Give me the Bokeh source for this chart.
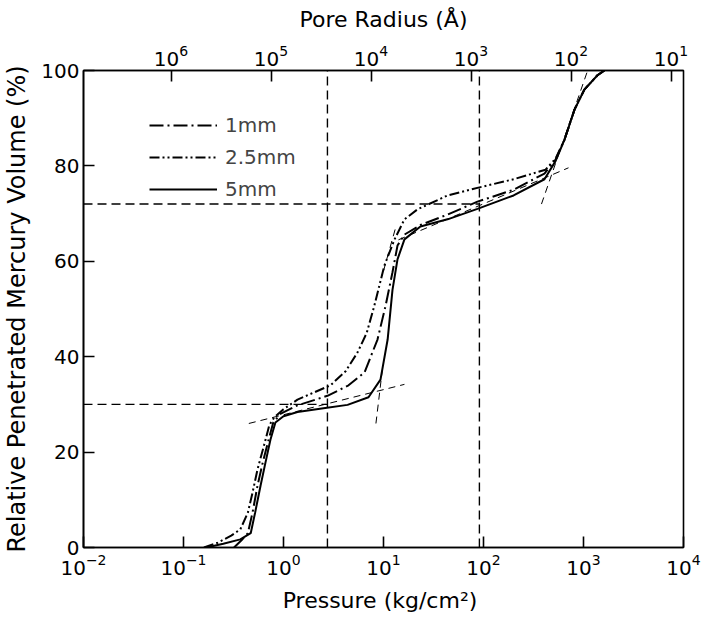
from bokeh.plotting import figure
from bokeh.models import Range1d, LogScale, LogAxis, FixedTicker, Legend, LegendItem
from bokeh.embed import file_html
from bokeh.resources import INLINE

# ---------------- data ----------------
pressure_ticks = [1e-2, 1e-1, 1e0, 1e1, 1e2, 1e3, 1e4]
radius_ticks = [1e1, 1e2, 1e3, 1e4, 1e5, 1e6]
volume_ticks = [0, 20, 40, 60, 80, 100]
washburn_const = 7.5e4  # pore radius (Å) = const / pressure (kg/cm2)

p_1mm = [0.32, 0.38, 0.44, 0.49, 0.55, 0.62, 0.71, 0.79, 0.93, 1.38, 2.75, 4.47, 6.46,
         8.71, 10.5, 12.3, 13.8, 16.2, 23.4, 43.7, 87, 200, 407, 525, 646, 813, 1020,
         1380, 1620]
v_1mm = [0, 1.5, 3.0, 7.3, 13.0, 17.8, 22.6, 26.2, 28.0, 29.8, 31.8, 34.0, 36.7,
         43.6, 50.7, 57.7, 63.3, 65.6, 67.6, 69.8, 72.5, 75.0, 78.4, 81.3, 85.5, 91.8,
         96.0, 99.0, 100]

p_25mm = [0.16, 0.22, 0.30, 0.37, 0.44, 0.49, 0.55, 0.65, 0.72, 0.81, 1.0, 1.38, 2.95,
          4.2, 5.5, 6.8, 8.1, 10.2, 12.9, 16.2, 21.9, 43.7, 91, 200, 417, 525, 646,
          813, 1020, 1380, 1620]
v_25mm = [0, 1.0, 2.5, 3.8, 7.3, 11.5, 16.4, 22.0, 25.6, 27.3, 29.0, 31.0, 34.0,
          37.0, 40.9, 45.0, 50.7, 59.1, 64.6, 68.8, 70.9, 73.8, 75.5, 77.2, 79.2, 81.5,
          85.5, 91.8, 96.0, 99.0, 100]

p_5mm = [0.17, 0.25, 0.37, 0.47, 0.52, 0.59, 0.66, 0.74, 0.83, 1.0, 1.38, 2.51, 4.37,
         7.08, 9.33, 11.0, 12.3, 13.8, 16.2, 23.4, 43.7, 87, 200, 407, 525, 646, 813,
         1020, 1380, 1620]
v_5mm = [0, 0.8, 1.7, 3.0, 7.3, 13.0, 17.8, 22.6, 26.2, 27.5, 28.4, 29.2, 29.9,
         31.5, 35.2, 43.6, 54.0, 60.4, 64.6, 67.3, 68.8, 71.0, 73.8, 77.2, 81.0, 85.5,
         91.8, 96.0, 99.0, 100]

# reference (construction) lines
ref_pressures = [2.75, 91]
ref_volumes = [30, 72]

# tangent lines: start/end pressure and volume
tan_p0 = [0.45, 8.4, 10.0, 14.1, 380]
tan_v0 = [26.0, 26.0, 58.0, 64.5, 72.0]
tan_p1 = [16.2, 9.7, 13.2, 708, 1100]
tan_v1 = [34.2, 37.0, 67.0, 79.6, 100]

labels = ["1mm", "2.5mm", "5mm"]

# ---------------- figure ----------------
FONT = "DejaVu Sans"
p = figure(x_axis_type="log", x_range=Range1d(1e-2, 1e4), y_range=Range1d(0, 100),
           frame_width=600, frame_height=477, output_backend="svg",
           toolbar_location=None, min_border_left=78, min_border_right=20,
           min_border_top=70, min_border_bottom=70)
p.grid.visible = False
p.outline_line_color = "black"
p.outline_line_width = 1.6
p.background_fill_color = "white"
p.border_fill_color = "white"

p.extra_x_ranges = {"r": Range1d(start=washburn_const / 1e-2, end=washburn_const / 1e4)}
p.extra_x_scales = {"r": LogScale()}
top = LogAxis(x_range_name="r", ticker=FixedTicker(ticks=radius_ticks),
              axis_label="Pore Radius (Å)")
p.add_layout(top, "above")

bottom = p.below[0]
left = p.left[0]

bottom.ticker = FixedTicker(ticks=pressure_ticks)
bottom.axis_label = "Pressure  (kg/cm²)"
left.ticker = FixedTicker(ticks=volume_ticks)
left.axis_label = "Relative Penetrated Mercury Volume (%)"

for ax in [bottom, top, left]:
    ax.axis_line_color = "black"
    ax.axis_line_width = 1.6
    ax.major_tick_in = 11
    ax.major_tick_out = 0
    ax.major_tick_line_width = 1.6
    ax.major_tick_line_color = "black"
    ax.minor_tick_line_color = None
    ax.major_label_text_font = FONT
    ax.major_label_text_font_size = "20px"
    ax.major_label_text_color = "black"
    ax.axis_label_text_font = FONT
    ax.axis_label_text_font_style = "normal"
    ax.axis_label_text_color = "black"
    ax.axis_label_text_font_size = "22px"

bottom.major_label_standoff = 6
bottom.axis_label_standoff = 10
top.major_label_standoff = 5
top.axis_label_standoff = 10
left.major_label_standoff = 4
left.axis_label_standoff = 7
left.axis_label_text_font_size = "24px"

# reference dashed lines
p.segment(x0=ref_pressures, y0=[0, 0], x1=ref_pressures, y1=[100, 100],
          line_color="black", line_width=1.4, line_dash="9 5")
p.segment(x0=[1e-2, 1e-2], y0=ref_volumes, x1=ref_pressures, y1=ref_volumes,
          line_color="black", line_width=1.4, line_dash="9 5")
# tangent lines
p.segment(x0=tan_p0, y0=tan_v0, x1=tan_p1, y1=tan_v1,
          line_color="black", line_width=1.0, line_dash="7 5")

r1 = p.line(p_1mm, v_1mm, line_color="black", line_width=2, line_dash="14 4 2 4")
r2 = p.line(p_25mm, v_25mm, line_color="black", line_width=2, line_dash="10 3 2 3 2 3")
r3 = p.line(p_5mm, v_5mm, line_color="black", line_width=2)

legend = Legend(items=[LegendItem(label=labels[0], renderers=[r1]),
                       LegendItem(label=labels[1], renderers=[r2]),
                       LegendItem(label=labels[2], renderers=[r3])],
                location=(66, 342), padding=0, margin=0, spacing=0,
                glyph_width=68, glyph_height=32, label_height=32, label_standoff=8,
                label_text_font=FONT, label_text_font_size="20px",
                border_line_alpha=0, background_fill_alpha=0)
p.add_layout(legend)

open("out.html", "w").write(file_html(p, INLINE))
